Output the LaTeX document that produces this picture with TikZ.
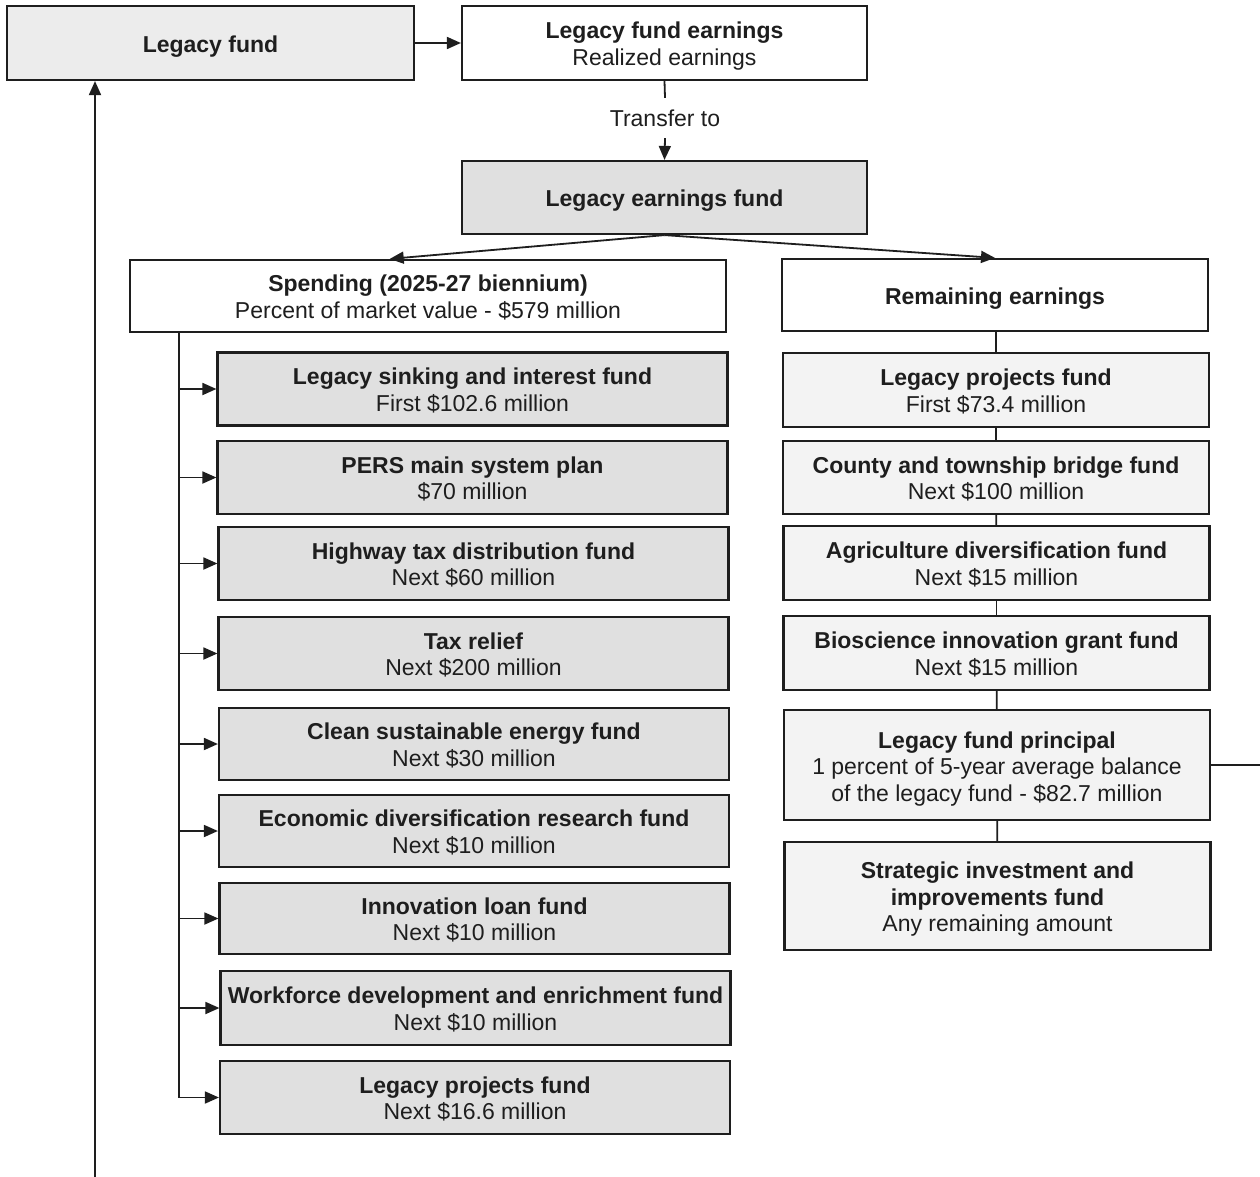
\documentclass[tikz,border=0pt]{standalone}
\usepackage{fontspec}
\setmainfont{Liberation Sans}
\usetikzlibrary{arrows.meta,calc}
\definecolor{ink}{HTML}{1E1E1E}
\definecolor{fillA}{HTML}{E0E0E0}
\definecolor{fillB}{HTML}{F3F3F3}
\definecolor{fillC}{HTML}{ECECEC}
% bold heading line with a strut that sets the height of the first line
\newcommand\hd[2][19.5pt]{\rule{0pt}{#1}\textbf{#2}}
\begin{document}
\begin{tikzpicture}[x=1pt,y=-1pt,
  font=\fontsize{23}{26.5}\selectfont, text=ink,
  box/.style={draw=ink, line width=2.2pt, align=center, inner sep=0pt,
    minimum width=#1},
  box/.default=510,
  single/.style={execute at begin node={\rule{0pt}{23.5pt}}},
  leftbox/.style={box=510, fill=fillA, minimum height=73},
  rightbox/.style={box=426, fill=fillB, minimum height=74},
  conn/.style={draw=ink, line width=1.8pt},
  arr/.style={conn, -{Triangle[length=14pt,width=12pt]}}]

\useasboundingbox[fill=white] (0,0) rectangle (1260,1177);

% top row
\node[box=407, single, fill=fillC, minimum height=74] (lf) at (210.5,43) {\textbf{Legacy fund}};
\node[box=405, fill=white, minimum height=74] (earn) at (664.5,43)
  {\hd[23pt]{Legacy fund earnings}\\Realized earnings};
\node[inner sep=0pt, minimum height=40] (tr) at (665,118) {Transfer to};
\node[box=405, single, fill=fillA, minimum height=73] (lef) at (664.5,197.5) {\textbf{Legacy earnings fund}};

% second row
\node[box=596, fill=white, minimum height=72] (sp) at (428,296)
  {\hd{Spending (2025-27 biennium)}\\Percent of market value - \$579 million};
\node[box=426, single, fill=white, minimum height=72] (rem) at (995,295) {\textbf{Remaining earnings}};

% spending column
\node[leftbox] (s1) at (472.5,389)    {\hd{Legacy sinking and interest fund}\\First \$102.6 million};
\node[leftbox] (s2) at (472.5,477.5)  {\hd{PERS main system plan}\\\$70 million};
\node[leftbox] (s3) at (473.5,563.5)  {\hd{Highway tax distribution fund}\\Next \$60 million};
\node[leftbox] (s4) at (473.5,653.5)  {\hd{Tax relief}\\Next \$200 million};
\node[leftbox, minimum height=72] (s5) at (474,744) {\hd{Clean sustainable energy fund}\\Next \$30 million};
\node[leftbox, minimum height=72] (s6) at (474,831) {\hd{Economic diversification research fund}\\Next \$10 million};
\node[leftbox, minimum height=71] (s7) at (474.5,918.5) {\hd{Innovation loan fund}\\Next \$10 million};
\node[leftbox, minimum height=74] (s8) at (475.5,1008) {\hd{Workforce development and enrichment fund}\\Next \$10 million};
\node[leftbox] (s9) at (475,1097.5)   {\hd{Legacy projects fund}\\Next \$16.6 million};

% remaining earnings column
\node[rightbox] (r1) at (996,390)   {\hd{Legacy projects fund}\\First \$73.4 million};
\node[rightbox, minimum height=73] (r2) at (996,477.5) {\hd{County and township bridge fund}\\Next \$100 million};
\node[rightbox] (r3) at (996.5,563) {\hd{Agriculture diversification fund}\\Next \$15 million};
\node[rightbox] (r4) at (996.5,653) {\hd{Bioscience innovation grant fund}\\Next \$15 million};
\node[rightbox, minimum height=110] (r5) at (997,765)
  {\hd[24pt]{Legacy fund principal}\\1 percent of 5-year average balance\\of the legacy fund - \$82.7 million};
\node[rightbox, minimum height=108] (r6) at (997.5,896)
  {\hd[23pt]{Strategic investment and}\\\textbf{improvements fund}\\Any remaining amount};

% flow along the top
\draw[arr] (lf) -- (earn);
\draw[conn] (earn.south) -- (tr.north);
\draw[arr] (tr.south) -- (lef.north);
\coordinate (spIn) at ($(sp.north west)!0.436!(sp.north east)$);
\draw[arr] (lef.south) -- (spIn);
\draw[arr] (lef.south) -- (rem.north);

% spending spine with branches
\coordinate (spine) at ($(sp.south west)+(50,0)$);
\draw[conn] (spine) -- (spine |- s9.west);
\foreach \b in {s1,s2,s3,s4,s5,s6,s7,s8,s9}
  \draw[arr] (spine |- \b.west) -- (\b.west);

% remaining earnings chain
\draw[conn] (rem.south -| r1.north) -- (r1.north);
\draw[conn] (r1) -- (r2);
\draw[conn] (r2) -- (r3);
\draw[conn] (r3) -- (r4);
\draw[conn] (r4) -- (r5);
\draw[conn] (r5) -- (r6);

% principal returned to the legacy fund
\coordinate (backR) at (1260,765);
\draw[conn] (r5.east) -- (backR);
\coordinate (backB) at (95,1177);
\draw[arr] (backB) -- (backB |- lf.south);
\end{tikzpicture}
\end{document}
